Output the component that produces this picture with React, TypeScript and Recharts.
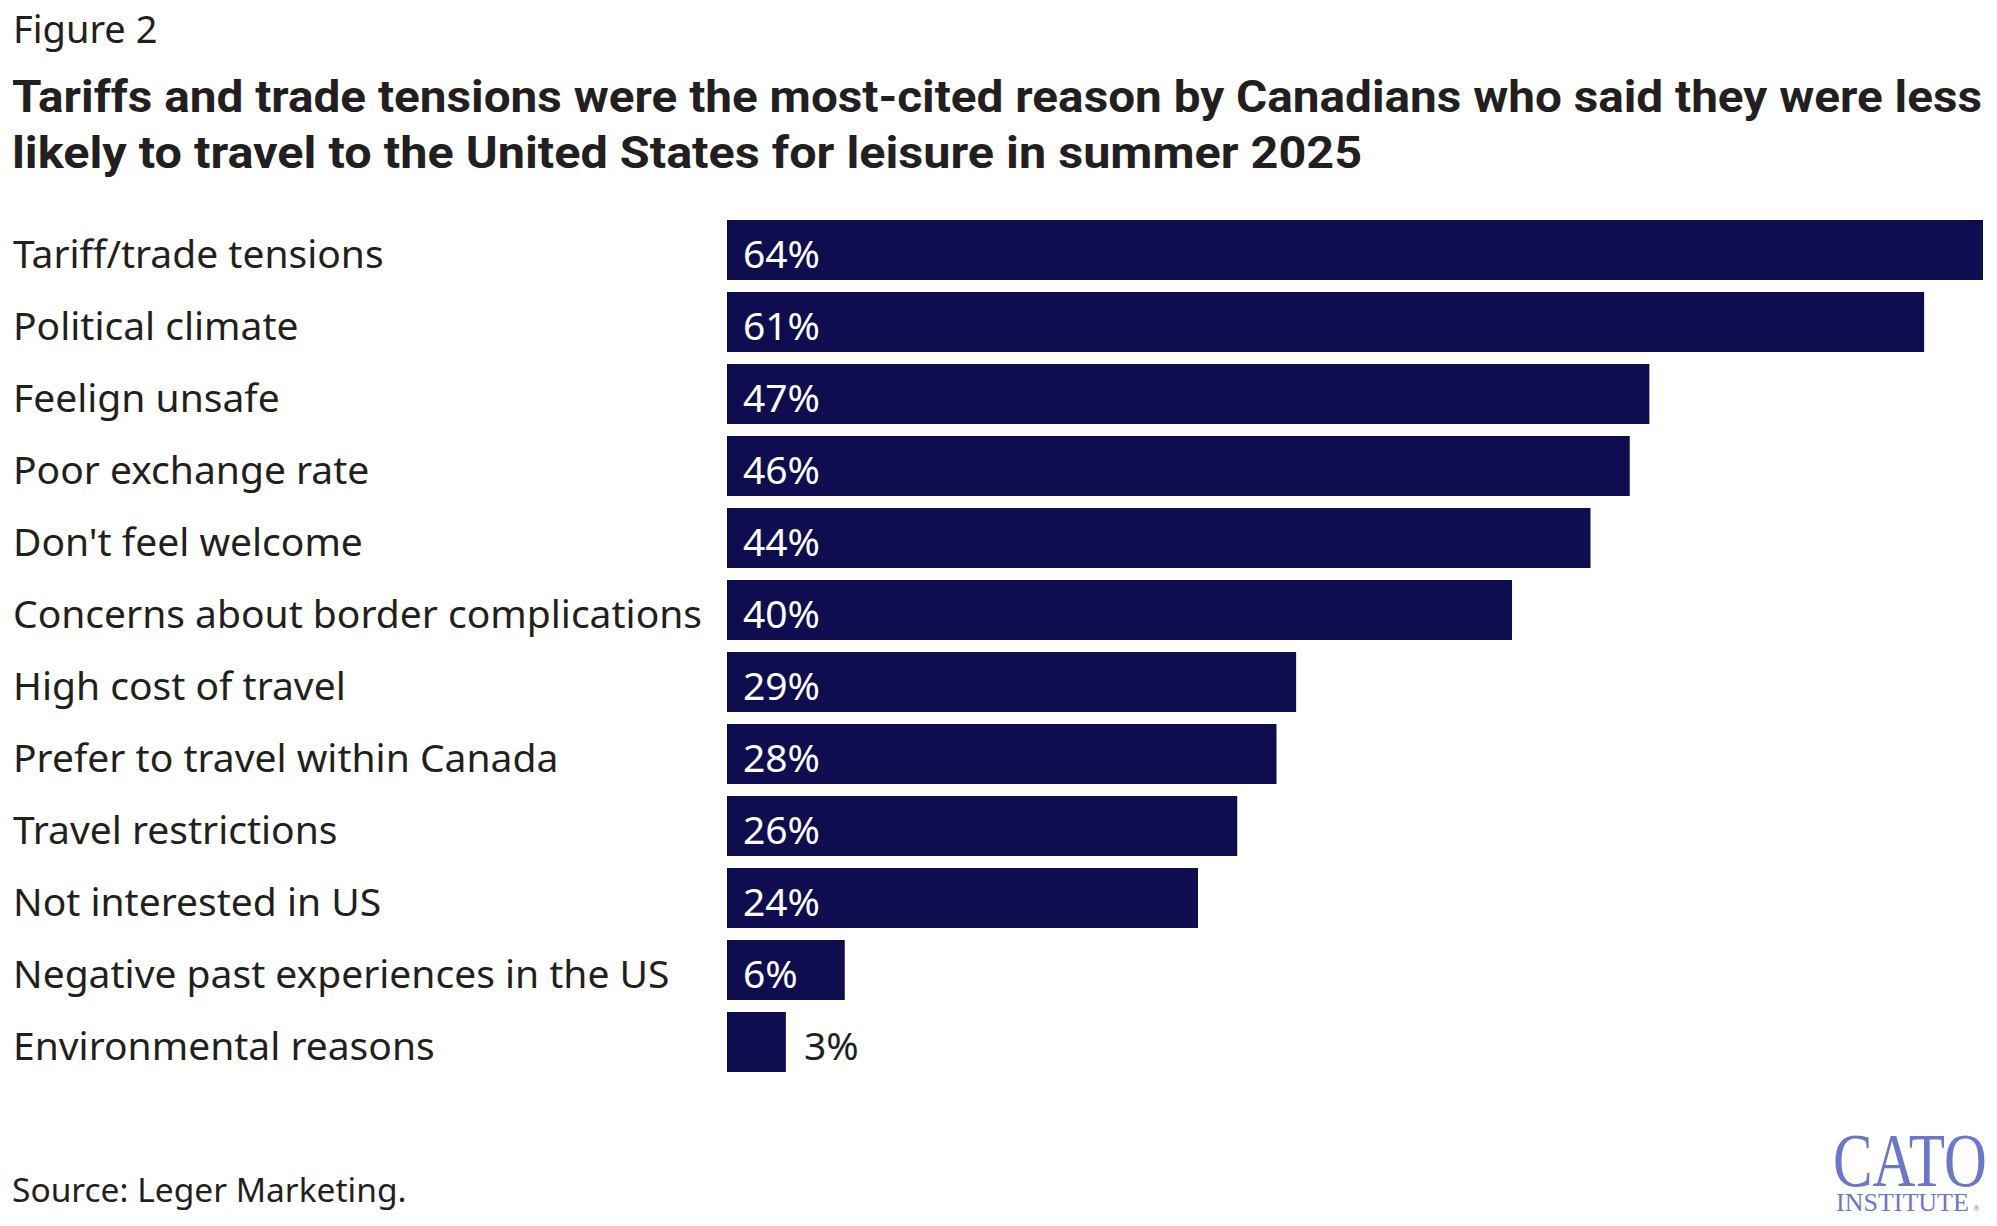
import React from 'react';
import { Bar, BarChart, LabelList, XAxis, YAxis } from 'recharts';

const REASONS = [
  'Tariff/trade tensions',
  'Political climate',
  'Feelign unsafe',
  'Poor exchange rate',
  "Don't feel welcome",
  'Concerns about border complications',
  'High cost of travel',
  'Prefer to travel within Canada',
  'Travel restrictions',
  'Not interested in US',
  'Negative past experiences in the US',
  'Environmental reasons',
];

const SHARES = [64, 61, 47, 46, 44, 40, 29, 28, 26, 24, 6, 3];

const TITLE_LINES = [
  'Tariffs and trade tensions were the most-cited reason by Canadians who said they were less',
  'likely to travel to the United States for leisure in summer 2025',
];
// measured widths of the two title lines in the reference
const TITLE_WIDTHS = [1970, 1350];

const data = REASONS.map((reason, i) => ({ reason, share: SHARES[i] }));

const W = 1997;
const H = 1226;
const FONT = '"Noto Sans", "Open Sans", Arial, sans-serif';
const TITLE_FONT = 'Roboto, "Liberation Sans", Arial, sans-serif';
const SERIF = '"Liberation Serif", "DejaVu Serif", serif';
const INK = '#231f20';
const NAVY = '#0e0d50';
const LOGO = '#6a77cb';

function ReasonTick({ y, payload }: any) {
  return (
    <text x={13} y={y + 18} fill={INK} fontSize={39} fontFamily={FONT} textAnchor="start">
      {payload.value}
    </text>
  );
}

function ShareLabel({ x, y, width, height, value }: any) {
  const inside = width > 90;
  return (
    <text
      x={inside ? x + 16 : x + width + 18}
      y={y + height / 2 + 18}
      fill={inside ? '#ffffff' : INK}
      fontSize={39}
      fontFamily={FONT}
    >
      {`${value}%`}
    </text>
  );
}

export default function App() {
  return (
    <div style={{ position: 'relative', width: W, height: H, background: '#fff', overflow: 'hidden' }}>
      <style>{'body{margin:0}'}</style>
      <BarChart
        width={W}
        height={H}
        data={data}
        layout="vertical"
        margin={{ top: 214, right: 14, bottom: 148, left: 0 }}
      >
        <XAxis type="number" domain={[0, 64]} hide />
        <YAxis
          type="category"
          dataKey="reason"
          width={727}
          axisLine={false}
          tickLine={false}
          tick={<ReasonTick />}
          interval={0}
        />
        <Bar dataKey="share" fill={NAVY} barSize={60} isAnimationActive={false}>
          <LabelList dataKey="share" content={<ShareLabel />} />
        </Bar>
      </BarChart>

      <svg
        width={W}
        height={H}
        style={{ position: 'absolute', left: 0, top: 0, pointerEvents: 'none' }}
      >
        <text x={13} y={43} fill={INK} fontSize={38} fontFamily={FONT}>
          Figure 2
        </text>
        {TITLE_LINES.map((line, i) => (
          <text
            key={i}
            x={12}
            y={112 + i * 56}
            fill={INK}
            fontSize={45}
            fontWeight={700}
            fontFamily={TITLE_FONT}
            textLength={TITLE_WIDTHS[i]}
            lengthAdjust="spacingAndGlyphs"
          >
            {line}
          </text>
        ))}
        <text x={12} y={1202} fill={INK} fontSize={33.5} fontFamily={FONT}>
          Source: Leger Marketing.
        </text>

        {/* logo */}
        <g transform="translate(1833,1186) scale(0.78,1)">
          <text x={0} y={0} fill={LOGO} fontSize={76} fontFamily={SERIF}>
            CATO
          </text>
        </g>
        <text x={1836} y={1211} fill={LOGO} fontSize={26} fontFamily={SERIF}>
          INSTITUTE
        </text>
        <text x={1973} y={1211} fill={LOGO} fontSize={9} fontFamily={SERIF}>
          ®
        </text>
      </svg>
    </div>
  );
}
